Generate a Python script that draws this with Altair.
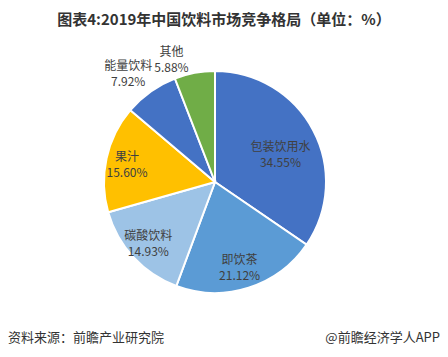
import altair as alt
import pandas as pd

categories = ["包装饮用水", "即饮茶", "碳酸饮料", "果汁", "能量饮料", "其他"]
shares = [34.55, 21.12, 14.93, 15.60, 7.92, 5.88]
colors = ["#4472C4", "#5B9BD5", "#9DC3E6", "#FFC000", "#4472C4", "#70AD47"]

df = pd.DataFrame({
    "cat": categories,
    "share": shares,
    "order": list(range(len(categories))),
})
df["label"] = [f"{c}\n{v:.2f}%" for c, v in zip(categories, shares)]

W, H = 432, 341
CX, CY = 207, 174
R = 111
FONT = "Noto Sans CJK SC"

pie = alt.Chart(df).mark_arc(outerRadius=R, stroke="white", strokeWidth=2).encode(
    theta=alt.Theta("share:Q", stack=True),
    order=alt.Order("order:Q"),
    color=alt.Color("cat:N", scale=alt.Scale(domain=categories, range=colors), legend=None),
    x=alt.value(CX), y=alt.value(CY),
)

lab_base = alt.Chart(df).transform_window(
    cum="sum(share)", sort=[alt.SortField("order")]
).transform_joinaggregate(total="sum(share)").transform_calculate(
    mid="(datum.cum - datum.share / 2) / datum.total"
)


def label_layer(filter_expr, radius, dx=0, dy=0):
    return lab_base.transform_filter(filter_expr).mark_text(
        radius=radius, dx=dx, dy=dy, font=FONT, fontSize=12, color="#404040",
        lineBreak="\n", lineHeight=16, align="center", baseline="middle"
    ).encode(
        theta=alt.Theta("mid:Q", scale=alt.Scale(domain=[0, 1]), stack=None),
        text="label:N", x=alt.value(CX), y=alt.value(CY),
    )


lab1 = label_layer("datum.order == 0", 74)
lab2 = label_layer("datum.order >= 1 && datum.order <= 3", 88, dx=-2, dy=-6)
lab3 = label_layer("datum.order == 4", 136, dx=-8, dy=-5)
lab4 = label_layer("datum.order == 5", 128, dx=-20, dy=-4)

title_df = pd.DataFrame({"t": ["图表4:2019年中国饮料市场竞争格局（单位：%）"]})
title = alt.Chart(title_df).mark_text(font=FONT, fontSize=15, fontWeight="bold", color="#333333",
                                      align="center", baseline="middle").encode(
    text="t:N", x=alt.value(W / 2), y=alt.value(12))

notes = pd.DataFrame({"t": ["资料来源：前瞻产业研究院"]})
left_note = alt.Chart(notes).mark_text(font=FONT, fontSize=13, color="#333333",
                                       align="left", baseline="middle").encode(
    text="t:N", x=alt.value(0), y=alt.value(330))
notes2 = pd.DataFrame({"t": ["@前瞻经济学人APP"]})
right_note = alt.Chart(notes2).mark_text(font=FONT, fontSize=13, color="#333333",
                                         align="right", baseline="middle").encode(
    text="t:N", x=alt.value(W), y=alt.value(330))

chart = alt.layer(pie, lab1, lab2, lab3, lab4, title, left_note, right_note).resolve_scale(
    theta="independent"
).properties(
    width=W, height=H,
    autosize=alt.AutoSizeParams(type="none"),
    padding=0,
).configure_view(stroke=None)

chart.save("out.html", embed_options={"renderer": "svg", "actions": False})
